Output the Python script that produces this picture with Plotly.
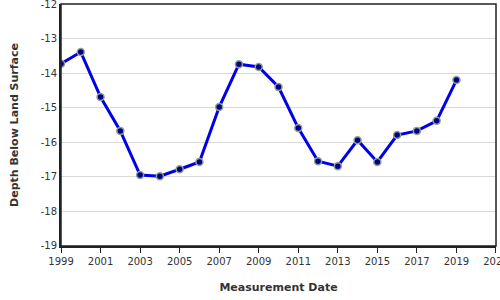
import plotly.graph_objects as go

years = list(range(1999, 2020))
depth = [-13.73, -13.39, -14.69, -15.67, -16.95, -16.98, -16.78, -16.57, -14.98, -13.74,
         -13.82, -14.40, -15.59, -16.55, -16.69, -15.94, -16.57, -15.79, -15.67, -15.38, -14.20]
x_ticks = list(range(1999, 2022, 2))
y_ticks = list(range(-19, -11))

fig = go.Figure()
fig.add_trace(go.Scatter(
    x=years, y=depth, mode="lines+markers",
    line=dict(color="#0000e6", width=3),
    marker=dict(color="#00008b", size=7, line=dict(color="#8fa08f", width=1.5)),
    showlegend=False,
))
fig.update_layout(
    width=500, height=300,
    margin=dict(l=61, r=4, t=4, b=54),
    paper_bgcolor="white", plot_bgcolor="white",
    font=dict(family="DejaVu Sans", size=10, color="#333"),
    xaxis=dict(range=[1998.999, 2021.001], tickvals=x_ticks, ticktext=[str(v) for v in x_ticks],
               showgrid=False, showline=True, linecolor="#222", linewidth=2,
               ticks="outside", ticklen=5, tickcolor="#222", zeroline=False,
               ticklabeloverflow="allow", automargin=False,
               title=dict(text="<b>Measurement Date</b>", font=dict(size=11, color="#333"), standoff=17)),
    yaxis=dict(range=[-19.001, -11.999], tickvals=y_ticks, ticktext=[str(v) for v in y_ticks],
               showgrid=True, gridcolor="#d9d9d9", gridwidth=1,
               showline=True, linecolor="#222", linewidth=2, ticks="", zeroline=False,
               ticklabeloverflow="allow", automargin=False,
               title=dict(text="<b>Depth Below Land Surface</b>", font=dict(size=11, color="#333"), standoff=20)),
    shapes=[dict(type="rect", xref="paper", yref="paper", x0=0, x1=1, y0=0, y1=1,
                 line=dict(color="#222", width=1.5), layer="above")],
)
fig.write_html("out.html")
